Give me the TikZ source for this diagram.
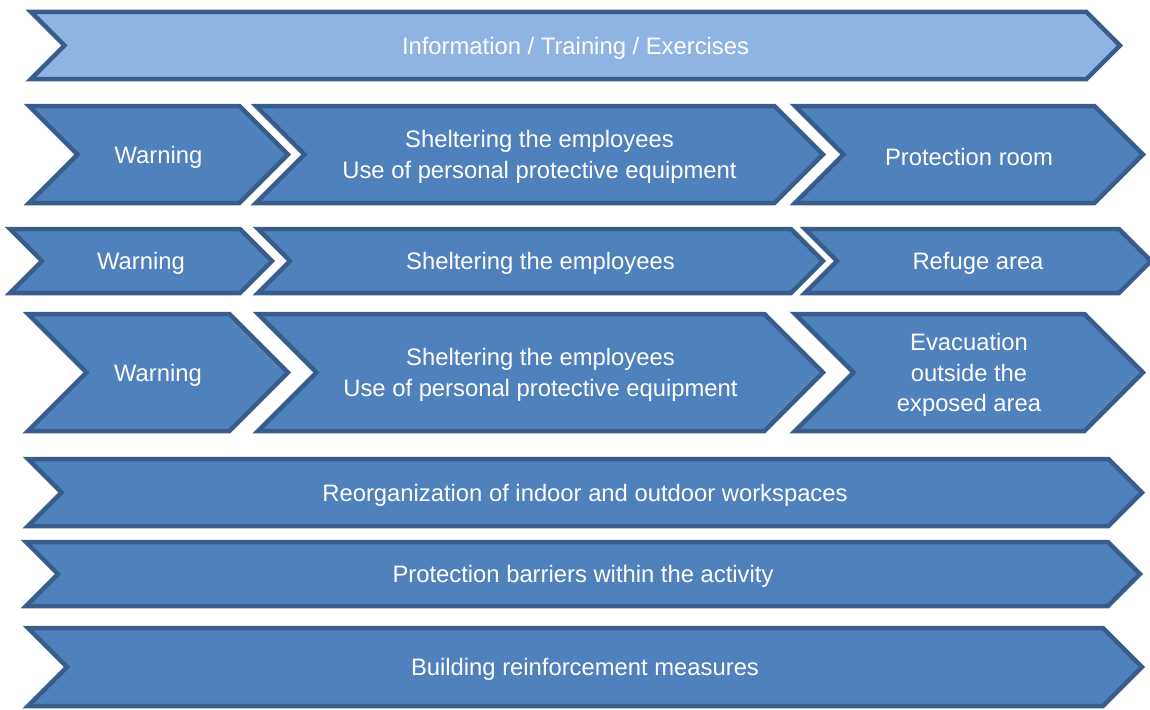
\documentclass[tikz,border=0pt]{standalone}
\usepackage{fontspec}
\setmainfont{Liberation Sans}
\usepackage{tikz}
\RequirePackage{xcolor}
\definecolor{BandLight}{HTML}{8EB4E3}
\definecolor{BandBlue}{HTML}{4F81BD}
\definecolor{BandEdge}{HTML}{385D8A}

\begin{document}
\begin{tikzpicture}[x=1pt,y=-1pt,
  band/.style={draw=BandEdge, line width=4.5pt, line join=miter, fill=BandBlue},
  label/.style={text=white, align=center, inner sep=0pt, yshift=-2.5pt, font=\fontsize{23.8}{30.5}\selectfont}]

\useasboundingbox (0,0) rectangle (1150,709);

% Information
\draw[band, fill=BandLight] (31,12) -- (1086.5,12) -- (1120,45.5) -- (1086.5,79) -- (31,79) -- (64.5,45.5) -- cycle;

% Protection room
\draw[band] (29,106) -- (239.5,106) -- (288,154.5) -- (239.5,203) -- (29,203) -- (77.5,154.5) -- cycle;
\draw[band] (256,106) -- (774.5,106) -- (823,154.5) -- (774.5,203) -- (256,203) -- (304.5,154.5) -- cycle;
\draw[band] (795,106) -- (1094.5,106) -- (1143,154.5) -- (1094.5,203) -- (795,203) -- (843.5,154.5) -- cycle;

% Refuge area
\draw[band] (10,229) -- (240,229) -- (272,261) -- (240,293) -- (10,293) -- (42,261) -- cycle;
\draw[band] (258,229) -- (791,229) -- (823,261) -- (791,293) -- (258,293) -- (290,261) -- cycle;
\draw[band] (805,229) -- (1119,229) -- (1151,261) -- (1119,293) -- (805,293) -- (837,261) -- cycle;

% Evacuation
\draw[band] (28,314) -- (229.5,314) -- (288,372.5) -- (229.5,431) -- (28,431) -- (86.5,372.5) -- cycle;
\draw[band] (258,314) -- (764.5,314) -- (823,372.5) -- (764.5,431) -- (258,431) -- (316.5,372.5) -- cycle;
\draw[band] (795,314) -- (1084.5,314) -- (1143,372.5) -- (1084.5,431) -- (795,431) -- (853.5,372.5) -- cycle;

% Workspaces, barriers, building
\draw[band] (28,459) -- (1108.5,459) -- (1142,492.5) -- (1108.5,526) -- (28,526) -- (61.5,492.5) -- cycle;
\draw[band] (26,542) -- (1108,542) -- (1140,574) -- (1108,606) -- (26,606) -- (58,574) -- cycle;
\draw[band] (28,628) -- (1103,628) -- (1142,667) -- (1103,706) -- (28,706) -- (67,667) -- cycle;

\node[label] (info) at (575.5,45.5) {Information / Training / Exercises};

\node[label] (warnA) at (158.5,154.5) {Warning};
\node[label] (shelterA) at (539.5,154.5) {Sheltering the employees\\Use of personal protective equipment};
\node[label] (room) at (969,154.5) {Protection room};

\node[label] (warnB) at (141,261) {Warning};
\node[label] (shelterB) at (540.5,261) {Sheltering the employees};
\node[label] (refuge) at (978,261) {Refuge area};

\node[label] (warnC) at (158,372.5) {Warning};
\node[label] (shelterC) at (540.5,372.5) {Sheltering the employees\\Use of personal protective equipment};
\node[label] (evac) at (969,372.5) {Evacuation\\outside the\\exposed area};

\node[label] (workspaces) at (585,492.5) {Reorganization of indoor and outdoor workspaces};
\node[label] (barriers) at (583,574) {Protection barriers within the activity};
\node[label] (building) at (585,667) {Building reinforcement measures};

\end{tikzpicture}
\end{document}
